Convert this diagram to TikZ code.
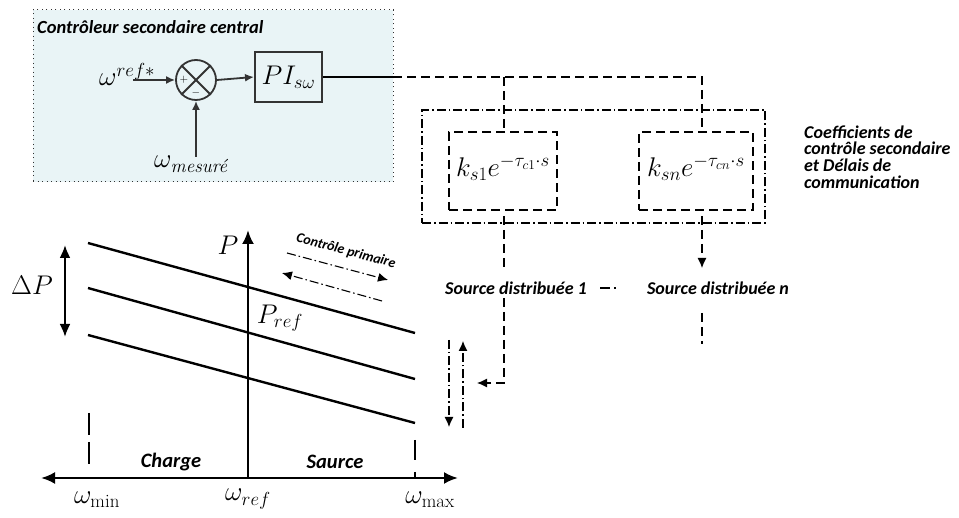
\RequirePackage{fix-cm}
\documentclass[tikz,border=0pt]{standalone}
\usepackage{amsmath}
\usepackage{fontspec}
\newfontfamily\carl{Carlito}
\usetikzlibrary{arrows.meta}
\definecolor{boxfill}{HTML}{E9F4F6}
\definecolor{dgray}{HTML}{333333}
\newcommand\lbl{\carl\bfseries\itshape}
\newcommand\mbig{\fontsize{27}{30}\selectfont}
\tikzset{
  topbox/.style={draw=dgray, line width=1pt, dash pattern=on 1pt off 3.5pt, fill=boxfill},
  blk/.style={draw=dgray, line width=1.8pt, -{Latex[length=9pt,width=8pt]}},
  dsh/.style={draw=black, line width=1.2pt, dash pattern=on 9pt off 5pt},
  dshdot/.style={draw=black, line width=1.2pt, dash pattern=on 9pt off 3pt on 1.5pt off 3pt},
  axis/.style={draw=black, line width=2.6pt},
  droop/.style={draw=black, line width=2.4pt},
  limit/.style={draw=black, line width=2.4pt, dash pattern=on 22pt off 7pt},
  tip/.style={-{Latex[length=10pt,width=9pt]}},
  bigtip/.style={-{Latex[length=14pt,width=12pt]}},
  lab/.style={font=\lbl\fontsize{18}{20}\selectfont, inner sep=1pt},
  mlab/.style={font=\mbig, inner sep=0pt},
}
\begin{document}
\begin{tikzpicture}[x=1pt,y=-1pt]
\useasboundingbox (0,0) rectangle (959,518);

% central secondary controller
\node[topbox, minimum width=360pt, minimum height=172pt, inner sep=0pt] (ctrl) at (213,96) {};
\node[lab, anchor=west, font=\lbl\fontsize{18.5}{20}\selectfont] (title) at (36,27) {Contrôleur secondaire central};
\node[mlab, anchor=base west] (wref) at (99,86) {$\omega^{ref*}$};
\coordinate (wrefout) at (133,80);
\node[circle, draw=dgray, line width=1.8pt, minimum size=40pt, inner sep=0pt] (sum) at (196,80) {};
\draw[draw=dgray, line width=1.8pt] (sum.north west) -- (sum.south east);
\draw[draw=dgray, line width=1.8pt] (sum.north east) -- (sum.south west);
\node[inner sep=0pt, font=\fontsize{11}{11}\selectfont] (plus) at (184,80) {$+$};
\node[inner sep=0pt, font=\fontsize{11}{11}\selectfont] (minus) at (196,93) {$-$};
\node[draw=dgray, line width=2pt, minimum width=67pt, minimum height=50pt, inner sep=0pt, font=\mbig] (pi) at (288.5,77) {$PI_{s\omega}$};
\node[mlab, anchor=base west] (wmes) at (154,168) {$\omega_{\textit{mesuré}}$};
\coordinate (mesin) at (196,157);
\draw[blk] (wrefout) -- (sum.west);
\draw[blk] (sum.east) -- (pi.west);
\draw[blk] (mesin) -- (sum.south);

% communication lines
\coordinate (ctrlout) at (393,77);
\coordinate (jn) at (702,77);
\coordinate (j1) at (504,77);
\draw[black, line width=1.2pt] (pi.east) -- (ctrlout);
\draw[dsh] (ctrlout) -- (jn) -- (702,132);
\draw[dsh] (j1) -- (504,132);

% coefficients block
\node[dshdot, minimum width=343pt, minimum height=113pt, inner sep=0pt] (coef) at (593.5,166.5) {};
\node[dsh, minimum width=108pt, minimum height=78pt, inner sep=0pt] (k1box) at (503,171) {};
\node[dsh, minimum width=114pt, minimum height=78pt, inner sep=0pt] (knbox) at (696,171) {};
\node[mlab] (k1) at (503,168) {$k_{s1}e^{-\tau_{c1}\cdot s}$};
\node[mlab] (kn) at (696,168) {$k_{sn}e^{-\tau_{cn}\cdot s}$};
\node[lab, anchor=west, align=left, font=\lbl\fontsize{18}{16.8}\selectfont] (coeftxt) at (803,157)
  {Coefficients de\\contrôle secondaire\\et Délais de\\communication};

% distributed sources
\node[lab] (src1) at (516,288) {Source distribuée 1};
\node[lab] (srcn) at (718,288) {Source distribuée n};
\draw[dshdot, dash pattern=on 10pt off 4pt on 1.5pt off 3pt] (600,288) -- (616,288);
\coordinate (c1top) at (504,216);
\coordinate (cntop) at (702,216);
\coordinate (c1corner) at (504,383);
\coordinate (c1end) at (477,383);
\draw[dsh] (c1top) -- (504,271);
\draw[dsh, tip] (504,298) -- (c1corner) -- (c1end);
\draw[dsh, tip] (cntop) -- (702,268);
\draw[dsh] (702,313) -- (702,344);
\draw[dshdot, tip] (449,340) -- (449,427);
\draw[dshdot, tip] (463,428) -- (463,341);

% droop characteristic
\coordinate (xl) at (41,478);
\coordinate (xr) at (458,478);
\coordinate (o) at (248,478);
\coordinate (yt) at (248,230);
\draw[axis, {Latex[length=14pt,width=12pt]}-{Latex[length=14pt,width=12pt]}] (xl) -- (xr);
\draw[axis, bigtip] (o) -- (yt);
\draw[droop] (88,243) -- (415,333);
\draw[droop] (88,288) -- (415,379);
\draw[droop] (88,335) -- (415,423);
\draw[axis, line width=2.2pt, {Latex[length=13pt,width=11pt]}-{Latex[length=13pt,width=11pt]}] (65,245) -- (65,337);
\draw[limit] (89,413) -- (89,470);
\draw[limit, dash pattern=on 20pt off 12pt] (415,440) -- (415,478);
\node[mlab, font=\fontsize{27}{30}\selectfont] (dp) at (32,285) {$\Delta P$};
\node[mlab] (plab) at (228,245) {$P$};
\node[mlab] (pref) at (280,318) {$P_{ref}$};
\node[mlab] (wmin) at (97,500) {$\omega_{\min}$};
\node[mlab] (wr) at (248,499) {$\omega_{ref}$};
\node[mlab] (wmax) at (430,500) {$\omega_{\max}$};
\node[lab, font=\lbl\fontsize{20.5}{22}\selectfont] (charge) at (171,462) {Charge};
\node[lab, font=\lbl\fontsize{20.5}{22}\selectfont] (saurce) at (335,462) {Saurce};
\node[lab, font=\lbl\fontsize{14}{15}\selectfont, rotate=-15] (prim) at (346,251) {Contrôle primaire};
\draw[dshdot, line width=1.1pt, tip] (287,253) -- (388,280);
\draw[dshdot, line width=1.1pt, tip] (382,301) -- (282,273);
\end{tikzpicture}
\end{document}
